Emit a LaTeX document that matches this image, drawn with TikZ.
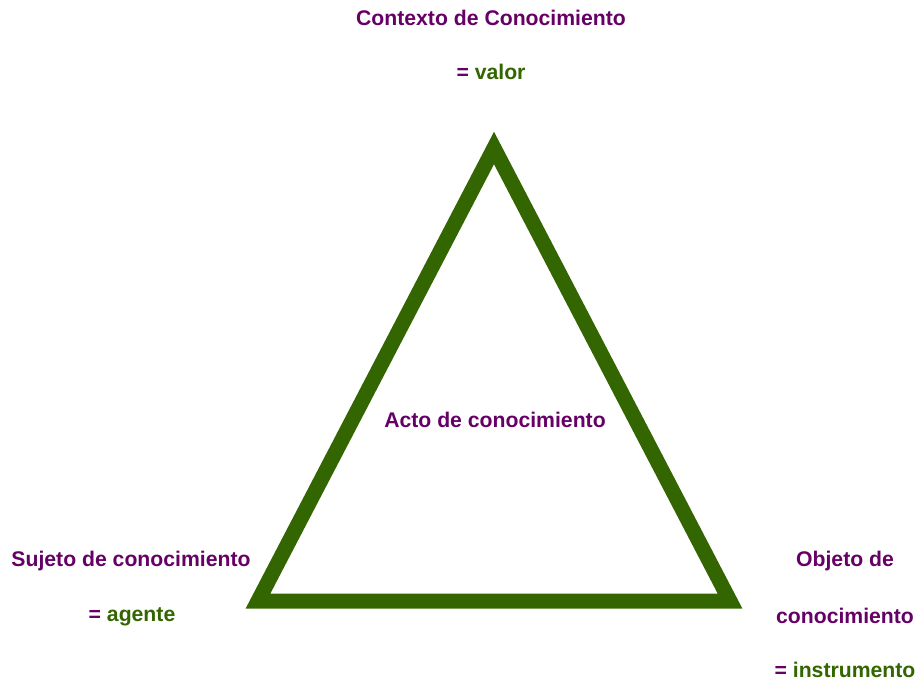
\documentclass[tikz,border=0pt]{standalone}
\usepackage{fontspec}
\setmainfont{Liberation Sans}
\definecolor{purp}{HTML}{660066}
\definecolor{grn}{HTML}{336600}
\begin{document}
\begin{tikzpicture}[x=1pt,y=-1pt,
  lbl/.style={font=\fontsize{21.2}{24}\selectfont\bfseries, text=purp, inner sep=0pt},
]
\useasboundingbox[fill=white] (0,0) rectangle (920,681);
\coordinate (top) at (494,148);
\coordinate (bl) at (258,601);
\coordinate (br) at (730,601);
\draw[grn, line width=15pt, line join=miter] (top) -- (bl) -- (br) -- cycle;

\node[lbl] (ctx) at (491,18) {Contexto de Conocimiento};
\node[lbl] (val) at (491,72) {= \textcolor{grn}{valor}};

\node[lbl] (acto) at (495,420) {Acto de conocimiento};

\node[lbl] (suj) at (131,561) {Sujeto de conocimiento};
\node[lbl] (age) at (132,617) {= \textcolor{grn}{agente}};

\node[lbl] (obj) at (845,561) {Objeto de};
\node[lbl] (con) at (845,616) {conocimiento};
\node[lbl] (ins) at (845,670) {= \textcolor{grn}{instrumento}};
\end{tikzpicture}
\end{document}
